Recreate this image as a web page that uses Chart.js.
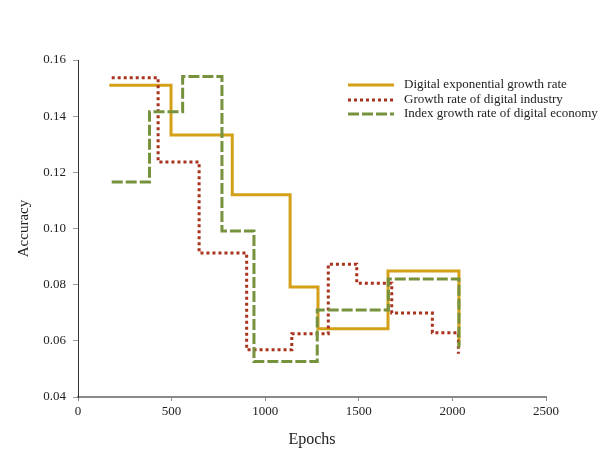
<!DOCTYPE html>
<html>
<head>
<meta charset="utf-8">
<script src="https://cdn.jsdelivr.net/npm/chart.js@4"></script>
<style>
  html, body { margin: 0; padding: 0; background: #fff; }
  #wrap { width: 601px; height: 455px; }
</style>
</head>
<body>
<div id="wrap"><canvas id="chart" width="601" height="455"></canvas></div>
<script>
// Series names (legend order)
var seriesNames = ['Digital exponential growth rate', 'Growth rate of digital industry', 'Index growth rate of digital economy'];

// Step points: x = epoch where the level starts, y = accuracy level
var expX = [167, 497, 824, 1133, 1282, 1656, 2035];
var expY = [0.1510, 0.1333, 0.1120, 0.0792, 0.0643, 0.0849, 0.0585];

var indX = [180, 428, 647, 901, 1142, 1337, 1489, 1676, 1893, 2032];
var indY = [0.1537, 0.1237, 0.0913, 0.0568, 0.0625, 0.0873, 0.0805, 0.0699, 0.0629, 0.0554];

var ecoX = [180, 382, 559, 769, 940, 1278, 1658, 2035];
var ecoY = [0.1166, 0.1416, 0.1541, 0.0991, 0.0526, 0.0710, 0.0820, 0.0575];

// Axis ticks
var xTicks = [0, 500, 1000, 1500, 2000, 2500];
var yTicks = [0.04, 0.06, 0.08, 0.10, 0.12, 0.14, 0.16];

var serif = 'Liberation Serif';
var textColor = '#222';

function toPoints(xs, ys) {
  return xs.map(function(x, i) { return { x: x, y: ys[i] }; });
}

// legend drawn by hand so the line samples look like the original
var lineLegend = {
  id: 'lineLegend',
  afterDraw: function(chart) {
    var ctx = chart.ctx;
    var rows = [85, 100, 114];
    ctx.save();
    ctx.font = '13px "' + serif + '"';
    ctx.textBaseline = 'middle';
    ctx.fillStyle = textColor;
    chart.data.datasets.forEach(function(ds, i) {
      var y = rows[i];
      ctx.beginPath();
      ctx.strokeStyle = ds.borderColor;
      ctx.lineWidth = ds.borderWidth;
      ctx.setLineDash(ds.borderDash || []);
      ctx.moveTo(348, y);
      ctx.lineTo(394, y);
      ctx.stroke();
      ctx.setLineDash([]);
      ctx.fillText(ds.label, 404, y);
    });
    ctx.restore();
  }
};

var ctx = document.getElementById('chart').getContext('2d');
var chart = new Chart(ctx, {
  type: 'line',
  data: {
    datasets: [{
      label: seriesNames[0],
      data: toPoints(expX, expY),
      borderColor: '#D4A017',
      borderWidth: 3,
      stepped: 'before',
      pointRadius: 0,
      order: 3
    }, {
      label: seriesNames[1],
      data: toPoints(indX, indY),
      borderColor: '#A8321C',
      borderWidth: 3,
      borderDash: [3, 3],
      stepped: 'before',
      pointRadius: 0,
      order: 2
    }, {
      label: seriesNames[2],
      data: toPoints(ecoX, ecoY),
      borderColor: '#76923C',
      borderWidth: 3,
      borderDash: [11, 3],
      stepped: 'before',
      pointRadius: 0,
      order: 1
    }]
  },
  options: {
    responsive: false,
    animation: false,
    layout: { padding: { top: 60, right: 55, left: 0, bottom: 0 } },
    plugins: {
      legend: { display: false },
      tooltip: { enabled: false }
    },
    scales: {
      x: {
        type: 'linear',
        min: 0,
        max: 2500,
        afterBuildTicks: function(axis) {
          axis.ticks = xTicks.map(function(v) { return { value: v }; });
        },
        afterFit: function(axis) { axis.height = 58; },
        border: { color: '#8a8a8a', width: 2 },
        grid: { drawOnChartArea: false, tickLength: 4, color: '#8a8a8a' },
        ticks: {
          color: textColor,
          padding: 3,
          font: { family: serif, size: 13 },
          callback: function(v) { return String(v); }
        },
        title: {
          display: true,
          text: 'Epochs',
          color: textColor,
          font: { family: serif, size: 16 },
          padding: { top: 0, bottom: 6 }
        }
      },
      y: {
        min: 0.04,
        max: 0.16,
        afterBuildTicks: function(axis) {
          axis.ticks = yTicks.map(function(v) { return { value: v }; });
        },
        afterFit: function(axis) { axis.width = 78; },
        border: { color: '#333', width: 1 },
        grid: { drawOnChartArea: false, tickLength: 5, color: '#999' },
        ticks: {
          color: textColor,
          padding: 7,
          font: { family: serif, size: 13 },
          callback: function(v) { return v.toFixed(2); }
        },
        title: {
          display: true,
          text: 'Accuracy',
          color: textColor,
          font: { family: serif, size: 15 },
          padding: { top: 15, bottom: 0 }
        }
      }
    }
  },
  plugins: [lineLegend]
});
</script>
</body>
</html>
